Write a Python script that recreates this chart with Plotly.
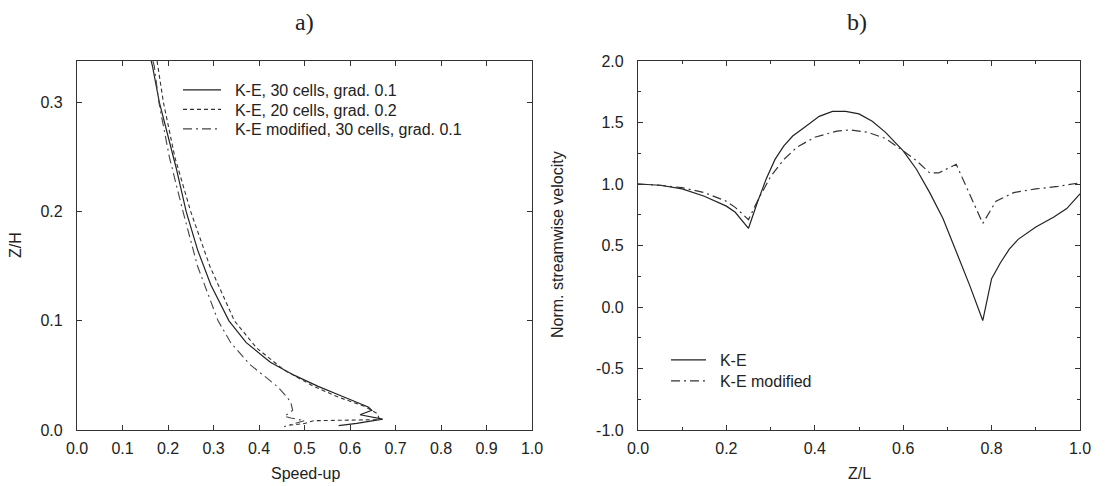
import plotly.graph_objects as go

# ---------------- data: panel a) speed-up profiles ----------------
ke30_z = [0.338, 0.333, 0.30, 0.27, 0.24, 0.20, 0.165, 0.133, 0.10, 0.08, 0.062, 0.05, 0.04,
          0.032, 0.026, 0.021, 0.018, 0.014, 0.010, 0.006, 0.004]
ke30_s = [0.163, 0.166, 0.181, 0.199, 0.218, 0.240, 0.265, 0.294, 0.334, 0.372, 0.425, 0.478, 0.530,
          0.576, 0.612, 0.640, 0.648, 0.622, 0.672, 0.615, 0.575]

ke20_z = [0.338, 0.333, 0.30, 0.25, 0.20, 0.15, 0.10, 0.075, 0.055, 0.04, 0.03, 0.022, 0.015,
          0.0095, 0.0085, 0.006, 0.004]
ke20_s = [0.176, 0.178, 0.190, 0.215, 0.250, 0.292, 0.346, 0.395, 0.455, 0.520, 0.575, 0.630, 0.660,
          0.665, 0.520, 0.500, 0.460]

kem_z = [0.338, 0.333, 0.30, 0.25, 0.20, 0.15, 0.10, 0.08, 0.06, 0.05, 0.04, 0.03, 0.025, 0.018,
         0.0125, 0.011, 0.0085, 0.005, 0.003]
kem_s = [0.167, 0.170, 0.180, 0.203, 0.233, 0.265, 0.310, 0.338, 0.380, 0.410, 0.440, 0.462, 0.470,
         0.474, 0.456, 0.470, 0.500, 0.470, 0.455]

# ---------------- data: panel b) normalised streamwise velocity ----------------
ke_x = [0.0, 0.05, 0.10, 0.15, 0.20, 0.22, 0.25, 0.27, 0.29, 0.31, 0.33, 0.35, 0.38, 0.41, 0.44,
        0.47, 0.50, 0.53, 0.56, 0.60, 0.63, 0.66, 0.69, 0.72, 0.75, 0.78, 0.80, 0.82, 0.84,
        0.86, 0.90, 0.94, 0.97, 1.0]
ke_u = [1.0, 0.99, 0.96, 0.90, 0.82, 0.77, 0.64, 0.85, 1.04, 1.20, 1.31, 1.39, 1.47, 1.55, 1.59,
        1.59, 1.57, 1.51, 1.42, 1.27, 1.12, 0.93, 0.72, 0.45, 0.18, -0.11, 0.23, 0.36, 0.47,
        0.55, 0.65, 0.73, 0.80, 0.92]

kemod_x = [0.0, 0.05, 0.10, 0.15, 0.20, 0.22, 0.25, 0.27, 0.30, 0.33, 0.36, 0.40, 0.45, 0.48,
           0.52, 0.56, 0.60, 0.63, 0.66, 0.68, 0.72, 0.75, 0.78, 0.81, 0.85, 0.90, 0.95, 1.0]
kemod_u = [1.0, 0.99, 0.97, 0.93, 0.86, 0.81, 0.71, 0.86, 1.06, 1.20, 1.30, 1.38, 1.43, 1.44,
           1.42, 1.37, 1.27, 1.19, 1.09, 1.09, 1.16, 0.92, 0.68, 0.86, 0.93, 0.96, 0.98, 1.01]

# ---------------- tick labels ----------------
a_xticks = [0.0, 0.1, 0.2, 0.3, 0.4, 0.5, 0.6, 0.7, 0.8, 0.9, 1.0]
a_xlabels = ["0.0", "0.1", "0.2", "0.3", "0.4", "0.5", "0.6", "0.7", "0.8", "0.9", "1.0"]
a_yticks = [0.0, 0.1, 0.2, 0.3]
a_ylabels = ["0.0", "0.1", "0.2", "0.3"]
b_xticks = [0.0, 0.2, 0.4, 0.6, 0.8, 1.0]
b_xlabels = ["0.0", "0.2", "0.4", "0.6", "0.8", "1.0"]
b_yticks = [-1.0, -0.5, 0.0, 0.5, 1.0, 1.5, 2.0]
b_ylabels = ["-1.0", "-0.5", "0.0", "0.5", "1.0", "1.5", "2.0"]

W, H = 1108, 486
TOP, BOT = 61, 430
PH = BOT - TOP
FONT = "Liberation Sans, Arial, Helvetica, sans-serif"
SERIF = "Liberation Serif, DejaVu Serif, serif"
INK = "#222222"
GAP = "\u00a0\u00a0"  # extra space between legend sample and its text


def px(x):
    return x / W


def py(y):
    return (BOT - y) / PH


DASH = "4px,3px"
DASHDOT = "9px,4px,2px,4px"

fig = go.Figure()

fig.add_trace(go.Scatter(x=ke30_s, y=ke30_z, mode="lines", name=GAP + "K-E, 30 cells, grad. 0.1",
                         line=dict(color=INK, width=1.2), xaxis="x", yaxis="y", legend="legend"))
fig.add_trace(go.Scatter(x=ke20_s, y=ke20_z, mode="lines", name=GAP + "K-E, 20 cells, grad. 0.2",
                         line=dict(color="#333333", width=1.1, dash=DASH),
                         xaxis="x", yaxis="y", legend="legend2"))
fig.add_trace(go.Scatter(x=kem_s, y=kem_z, mode="lines", name=GAP + "K-E modified, 30 cells, grad. 0.1",
                         line=dict(color="#444444", width=1.1, dash=DASHDOT),
                         xaxis="x", yaxis="y", legend="legend3"))

fig.add_trace(go.Scatter(x=ke_x, y=ke_u, mode="lines", name=GAP + "K-E",
                         line=dict(color=INK, width=1.2), xaxis="x2", yaxis="y2", legend="legend4"))
fig.add_trace(go.Scatter(x=kemod_x, y=kemod_u, mode="lines", name=GAP + "K-E modified",
                         line=dict(color="#333333", width=1.2, dash=DASHDOT),
                         xaxis="x2", yaxis="y2", legend="legend5"))

axis_common = dict(showline=True, linecolor="#333333", linewidth=1.2, mirror="ticks",
                   ticks="inside", ticklen=5, tickcolor="#333333", showgrid=False, zeroline=False,
                   tickfont=dict(family=FONT, size=16, color=INK), tickmode="array",
                   automargin=False)


def leg(x, y, width):
    return dict(x=px(x), y=py(y), xanchor="left", yanchor="middle", bgcolor="rgba(0,0,0,0)",
                font=dict(family=FONT, size=16, color=INK), itemwidth=width, borderwidth=0)


fig.update_layout(
    template="none",
    width=W, height=H,
    margin=dict(l=0, r=0, t=TOP, b=H - BOT, autoexpand=False),
    paper_bgcolor="white", plot_bgcolor="white",
    font=dict(family=FONT, size=16, color=INK),
    xaxis=dict(domain=[px(77), px(532)], range=[0, 1], tickvals=a_xticks, ticktext=a_xlabels,
               anchor="y", ticklabelstandoff=4, **axis_common),
    yaxis=dict(domain=[0, 1], range=[0, 0.338], tickvals=a_yticks, ticktext=a_ylabels,
               anchor="x", ticklabelstandoff=10, **axis_common),
    xaxis2=dict(domain=[px(638), px(1080)], range=[0, 1], tickvals=b_xticks, ticktext=b_xlabels,
                anchor="y2", ticklabelstandoff=4,
                minor=dict(dtick=0.1, ticks="inside", ticklen=3, tickcolor="#333333"),
                **axis_common),
    yaxis2=dict(domain=[0, 1], range=[-1, 2], tickvals=b_yticks, ticktext=b_ylabels,
                anchor="x2", ticklabelstandoff=10,
                minor=dict(dtick=0.25, ticks="inside", ticklen=3, tickcolor="#333333"),
                **axis_common),
    legend=leg(178, 90, 38),
    legend2=leg(178, 109.5, 38),
    legend3=leg(178, 129, 38),
    legend4=leg(666, 360, 35),
    legend5=leg(666, 381, 35),
    showlegend=True,
)

ann = [
    dict(text="a)", x=px(304), y=py(22), font=dict(family=SERIF, size=24, color=INK)),
    dict(text="b)", x=px(857), y=py(22), font=dict(family=SERIF, size=24, color=INK)),
    dict(text="Speed-up", x=px(305), y=py(473), font=dict(family=FONT, size=16, color=INK)),
    dict(text="Z/L", x=px(859), y=py(473), font=dict(family=FONT, size=16, color=INK)),
    dict(text="Z/H", x=px(15), y=py(245), textangle=-90, font=dict(family=FONT, size=16, color=INK)),
    dict(text="Norm. streamwise velocity", x=px(557), y=py(245), textangle=-90,
         font=dict(family=FONT, size=16, color=INK)),
]
for a in ann:
    a.update(xref="paper", yref="paper", showarrow=False, xanchor="center", yanchor="middle")
fig.update_layout(annotations=ann)

# remove the default 8px page margin so the figure sits at the window's top-left corner
fig.write_html("out.html", config={"displayModeBar": False},
               post_script="document.body.style.margin='0';")
